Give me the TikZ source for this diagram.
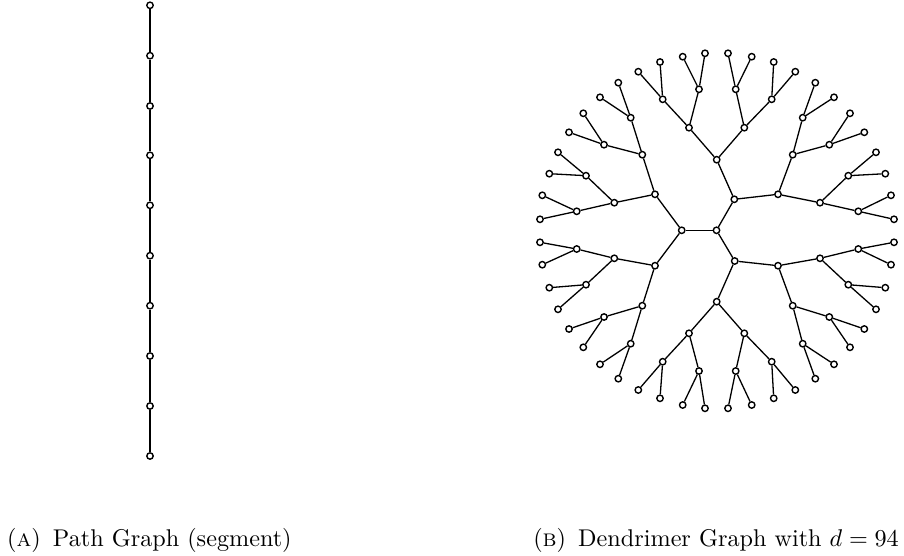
\documentclass[tikz,border=0pt]{standalone}
\usepackage{graphicx}
\begin{document}
\begin{tikzpicture}[x=1pt,y=-1pt,
  v/.style={circle,draw=black,fill=white,inner sep=0pt,minimum size=6.4pt,line width=1.4pt},
  e/.style={draw=black,line width=1.3pt},
  captext/.style={inner sep=0pt}]
\useasboundingbox (0,0) rectangle (904,556);
% path graph
\foreach \i [count=\k] in {5.3,55.7,106,155.3,205.3,255.7,305.7,356,406,456}
  \node[v] (p\k) at (150,\i) {};
\foreach \i [count=\j from 2] in {1,...,9}
  \draw[e] (p\i) -- (p\j);
% dendrimer nodes
\foreach \n/\x/\y in {R/716.5/230.3, L/681.7/230.3,
  a/655/194.3, a1/614.3/202.7, a2/642.3/154.7, a11/576.7/211.3, a12/586/175.7, a21/604/144.7, a22/630.7/117.7,
  a111/540/219.3, a112/542.3/195.3, a121/549.3/173.7, a122/558/152.3, a211/569/132.3, a212/583.3/113.3, a221/600/97.3, a222/618.3/82.7,
  b/655/265.7, b1/614.3/258.3, b2/642.3/305.7, b11/576.7/249, b12/586/284.7, b21/604/317, b22/630.7/343.7,
  b111/540/242.3, b112/542.3/264.7, b121/549.3/287.7, b122/558/309.3, b211/569/329, b212/583.3/347.3, b221/600/364.3, b222/618.3/378.7,
  P/734.3/199.3, Q/716.7/159.7, S/778/194.3,
  q1/689/127.7, q2/744.3/127.7, q11/662.7/99.3, q12/699/89.3, q21/735.7/89.3, q22/771.7/99.3,
  q111/638.3/71.7, q112/660/62, q121/682.7/56.7, q122/705/53.3, q211/728/53.3, q212/751.7/56.7, q221/773.7/62, q222/795.3/71.7,
  s1/820/202.7, s2/792.7/154.7, s11/858.3/211.3, s12/848.3/175.7, s21/829.3/144.7, s22/802.7/117.7,
  s111/894/219.3, s112/891/195.3, s121/885.3/173.7, s122/876/152.3, s211/864.3/132.3, s212/850/113.3, s221/834/97.3, s222/815.3/82.7,
  Pp/734.7/261, Sp/778/265.7, Qp/716.7/301.7,
  t1/820/258.3, t2/792.7/305.7, t11/858.3/249, t12/848.3/284.7, t21/829.3/317, t22/802.7/343.7,
  t111/894/242.3, t112/891/264.7, t121/885.3/287.7, t122/876/309.3, t211/864.3/329, t212/850/347.3, t221/834/364.3, t222/815.3/378.7,
  u1/689/333.3, u2/744.3/333.3, u11/662.7/361.7, u12/699/371, u21/735.7/371, u22/771.7/361.7,
  u111/638.3/390, u112/660/398.3, u121/682.7/405, u122/705/408.3, u211/728/408.3, u212/751.7/405, u221/773.7/398.3, u222/795.3/390}
  \node[v] (\n) at (\x,\y) {};
% dendrimer edges
\foreach \s/\t in {R/L, L/a, L/b, R/P, R/Pp, P/Q, P/S, Pp/Sp, Pp/Qp,
  a/a1, a/a2, b/b1, b/b2, Q/q1, Q/q2, S/s1, S/s2, Sp/t1, Sp/t2, Qp/u1, Qp/u2}
  \draw[e] (\s) -- (\t);
\foreach \r in {a,b,q,s,t,u}
  \foreach \i in {1,2}
    \foreach \j in {1,2} {
      \draw[e] (\r\i) -- (\r\i\j);
      \foreach \k in {1,2}
        \draw[e] (\r\i\j) -- (\r\i\j\k);
    }
% captions
\node[captext,anchor=base west] (ca) at (7,546) {\scalebox{2.42}{(\textsc{a})\enskip Path Graph (segment)}};
\node[captext,anchor=base east] (cb) at (899,546) {\scalebox{2.42}{(\textsc{b})\enskip Dendrimer Graph with $d=94$}};
\end{tikzpicture}
\end{document}
